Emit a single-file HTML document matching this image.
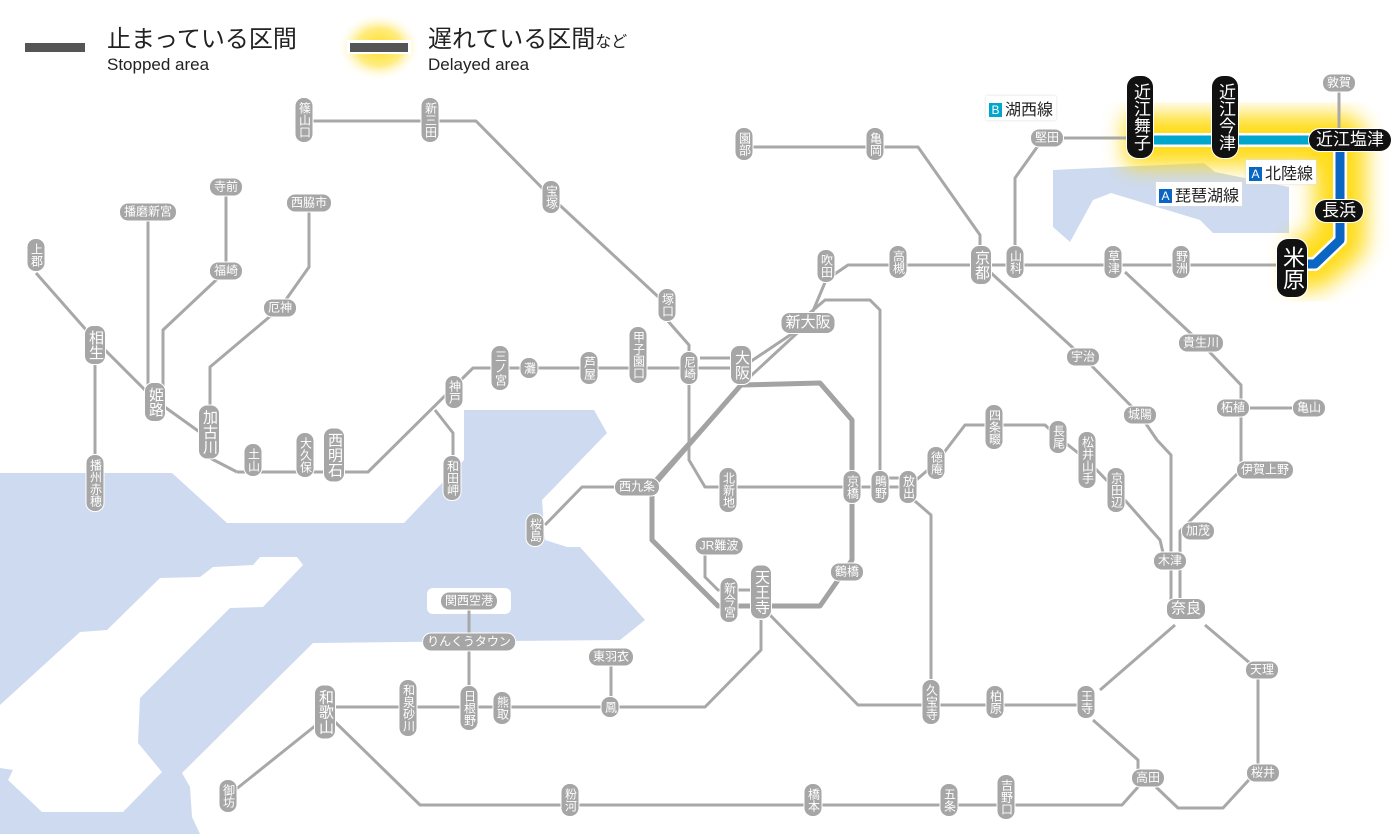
<!DOCTYPE html>
<html><head><meta charset="utf-8">
<style>
html,body{margin:0;padding:0;background:#fff;}
#w{position:relative;width:1400px;height:834px;overflow:hidden;font-family:"Liberation Sans","Noto Sans CJK JP",sans-serif;}
svg{position:absolute;left:0;top:0;}
.s{position:absolute;transform:translate(-50%,-50%);background:#a6a6a6;color:#fff;font-size:12px;line-height:15px;border-radius:8px;padding:1px 4px;white-space:nowrap;box-shadow:0 0 0 1px #fff;}
.v{writing-mode:vertical-rl;padding:4px 1px;line-height:15px;}
.L{font-size:15px;line-height:18px;}
.b{background:#111;font-size:17px;line-height:20px;border-radius:11px;}
.bv{padding:7px 3px;}
.lab{position:absolute;background:#fff;font-size:16px;color:#222;padding:0 3px;white-space:nowrap;box-shadow:0 0 3px #ddd;}
.ic{display:inline-block;width:13px;height:14px;line-height:14px;font-size:12px;color:#fff;text-align:center;margin-right:3px;vertical-align:1px;}
</style></head><body><div id="w">
<svg width="1400" height="834" viewBox="0 0 1400 834">
<defs>
<radialGradient id="g" cx="50%" cy="50%" r="50%"><stop offset="0" stop-color="#ffd800"/><stop offset="0.55" stop-color="#ffe96a"/><stop offset="1" stop-color="#fff" stop-opacity="0"/></radialGradient>
<filter id="bl" x="-30%" y="-30%" width="160%" height="160%"><feGaussianBlur stdDeviation="11"/></filter>
</defs>
<!-- water -->
<polygon fill="#cddaf0" points="0,473 172,473 227,523 404,523 464,460 464,410 594,410 607,433 542,500 545,540 567,547 580,547 645,620 620,640 400,642 313,643 182,773 190,787 192,817 200,834 0,834"/>
<polygon fill="#fff" points="0,705 80,632 107,630 160,578 200,577 213,567 253,565 260,557 297,557 303,565 263,607 230,608 140,698 138,743 162,772 123,812 42,812 8,780 13,770 0,768"/>
<rect x="427" y="588" width="84" height="26" rx="6" fill="#fff"/>
<polygon fill="#cddaf0" points="1053,170 1204,163 1215,172 1289,187 1289,233 1213,233 1200,220 1111,193 1093,200 1070,242 1053,227"/>
<!-- legend -->
<ellipse cx="379" cy="47" rx="42" ry="34" fill="url(#g)" opacity="0.85"/>
<rect x="25" y="43" width="60" height="9" fill="#555"/>
<rect x="347" y="40" width="64" height="14" fill="#fff"/>
<rect x="350" y="43" width="58" height="9" fill="#555"/>
<!-- glow -->
<path d="M1125,140 L1340,140 L1340,240 L1312,264 L1290,264" fill="none" stroke="#ffd800" stroke-width="52" stroke-linejoin="round" filter="url(#bl)" opacity="0.9"/>
<g fill="none" stroke="#a8a8a8" stroke-width="3" stroke-linejoin="round">
<polyline points="304,121 476,121 551,197 667,305 667,320 689,345 689,460 705,487 908,487"/>
<line x1="880" y1="478" x2="908" y2="478"/>
<polyline points="237,472 368,472 473,368 741,368"/>
<line x1="700" y1="358" x2="741" y2="358"/>
<polyline points="435,410 453,433 453,478"/>
<polyline points="36,273 95,340 155,400 201,433 210,458 237,472"/>
<line x1="95" y1="340" x2="95" y2="490"/>
<line x1="148" y1="212" x2="148" y2="400"/>
<polyline points="226,187 226,271 214,282 163,330 163,390"/>
<polyline points="309,203 309,267 280,308 210,367 210,430"/>
<polyline points="655,480 741,385 808,323 826,280 848,265 1300,265"/>
<polyline points="741,368 808,323"/>
<polyline points="798,323 825,300 870,300 880,310 880,487"/>
<polyline points="637,487 582,487 545,525"/>
<polyline points="705,546 705,577 718,590 761,590"/>
<polyline points="761,620 761,650 705,707 325,707"/>
<polyline points="770,615 858,705 1086,705"/>
<line x1="611" y1="657" x2="611" y2="707"/>
<line x1="469" y1="601" x2="469" y2="707"/>
<line x1="320" y1="722" x2="235" y2="790"/>
<polyline points="333,720 420,805 1122,805 1138,787 1138,760 1093,720"/>
<polyline points="1156,787 1178,808 1223,808 1258,770 1258,670 1205,625"/>
<line x1="1100" y1="690" x2="1175" y2="625"/>
<polyline points="1171,609 1171,455 1157,440 1140,415 1083,357 990,272"/>
<polyline points="1180,609 1180,531 1241,470 1241,408 1309,408"/>
<polyline points="1241,408 1241,385 1201,343 1125,272"/>
<polyline points="908,487 936,463 965,425 1045,425 1058,437 1087,460 1116,490 1160,540 1165,561"/>
<polyline points="908,495 931,515 931,705"/>
<polyline points="744,147 918,147 980,235 980,265"/>
<polyline points="1015,265 1015,178 1040,143 1047,138 1140,138"/>
<line x1="1339" y1="83" x2="1339" y2="130"/>
</g>
<g fill="none" stroke="#a3a3a3" stroke-width="5" stroke-linejoin="round">
<polyline points="741,385 820,383 852,420 852,487 852,560 820,606 718,606 652,540 652,487 741,385"/>
</g>
<line x1="1140" y1="140" x2="1315" y2="140" stroke="#fff" stroke-width="14"/>
<line x1="1140" y1="140" x2="1315" y2="140" stroke="#00a6cc" stroke-width="9"/>
<polyline points="1340,145 1340,240 1315,264 1300,264" fill="none" stroke="#fff" stroke-width="14" stroke-linejoin="round"/>
<polyline points="1340,145 1340,240 1315,264 1300,264" fill="none" stroke="#0a66c2" stroke-width="9" stroke-linejoin="round"/>
</svg>

<div style="position:absolute;left:107px;top:26px;font-size:24px;color:#222;line-height:28px;">止まっている区間</div>
<div style="position:absolute;left:107px;top:55px;font-size:17px;color:#222;line-height:20px;">Stopped area</div>
<div style="position:absolute;left:428px;top:26px;font-size:24px;color:#222;line-height:28px;">遅れている区間<span style="font-size:16px">など</span></div>
<div style="position:absolute;left:428px;top:55px;font-size:17px;color:#222;line-height:20px;">Delayed area</div>

<div class="s v" style="left:304px;top:120px">篠山口</div>
<div class="s v" style="left:430px;top:120px">新三田</div>
<div class="s v" style="left:551px;top:197px">宝塚</div>
<div class="s" style="left:226px;top:187px">寺前</div>
<div class="s" style="left:148px;top:212px">播磨新宮</div>
<div class="s" style="left:309px;top:203px">西脇市</div>
<div class="s v" style="left:36px;top:255px">上郡</div>
<div class="s" style="left:226px;top:271px">福崎</div>
<div class="s" style="left:280px;top:308px">厄神</div>
<div class="s v L" style="left:95px;top:345px">相生</div>
<div class="s v L" style="left:155px;top:402px">姫路</div>
<div class="s v L" style="left:209px;top:432px">加古川</div>
<div class="s v" style="left:253px;top:460px">土山</div>
<div class="s v" style="left:305px;top:455px">大久保</div>
<div class="s v L" style="left:334px;top:455px">西明石</div>
<div class="s v" style="left:95px;top:483px">播州赤穂</div>
<div class="s v" style="left:454px;top:392px">神戸</div>
<div class="s v" style="left:452px;top:478px">和田岬</div>
<div class="s v" style="left:500px;top:368px">三ノ宮</div>
<div class="s v" style="left:529px;top:368px">灘</div>
<div class="s v" style="left:589px;top:368px">芦屋</div>
<div class="s v" style="left:638px;top:355px">甲子園口</div>
<div class="s v" style="left:667px;top:305px">塚口</div>
<div class="s v" style="left:689px;top:368px">尼崎</div>
<div class="s v L" style="left:741px;top:365px">大阪</div>
<div class="s L" style="left:808px;top:323px">新大阪</div>
<div class="s v" style="left:826px;top:266px">吹田</div>
<div class="s v" style="left:898px;top:262px">高槻</div>
<div class="s v" style="left:744px;top:144px">園部</div>
<div class="s v" style="left:875px;top:144px">亀岡</div>
<div class="s v L" style="left:981px;top:265px">京都</div>
<div class="s v" style="left:1015px;top:262px">山科</div>
<div class="s" style="left:1047px;top:138px">堅田</div>
<div class="s v" style="left:1113px;top:262px">草津</div>
<div class="s v" style="left:1181px;top:262px">野洲</div>
<div class="s" style="left:1339px;top:83px">敦賀</div>
<div class="s" style="left:1083px;top:357px">宇治</div>
<div class="s" style="left:1201px;top:343px">貴生川</div>
<div class="s" style="left:1140px;top:415px">城陽</div>
<div class="s" style="left:1233px;top:408px">柘植</div>
<div class="s" style="left:1309px;top:408px">亀山</div>
<div class="s" style="left:1265px;top:470px">伊賀上野</div>
<div class="s" style="left:1198px;top:531px">加茂</div>
<div class="s" style="left:1170px;top:561px">木津</div>
<div class="s L" style="left:1186px;top:609px">奈良</div>
<div class="s" style="left:1262px;top:670px">天理</div>
<div class="s" style="left:1263px;top:773px">桜井</div>
<div class="s" style="left:1148px;top:778px">高田</div>
<div class="s v" style="left:1086px;top:702px">王寺</div>
<div class="s v" style="left:995px;top:702px">柏原</div>
<div class="s v" style="left:931px;top:702px">久宝寺</div>
<div class="s v" style="left:1006px;top:797px">吉野口</div>
<div class="s v" style="left:949px;top:800px">五条</div>
<div class="s v" style="left:813px;top:800px">橋本</div>
<div class="s v" style="left:570px;top:800px">粉河</div>
<div class="s v" style="left:228px;top:796px">御坊</div>
<div class="s v L" style="left:325px;top:712px">和歌山</div>
<div class="s v" style="left:408px;top:708px">和泉砂川</div>
<div class="s v" style="left:469px;top:708px">日根野</div>
<div class="s v" style="left:502px;top:708px">熊取</div>
<div class="s v" style="left:610px;top:707px">鳳</div>
<div class="s" style="left:611px;top:657px">東羽衣</div>
<div class="s" style="left:469px;top:601px">関西空港</div>
<div class="s" style="left:469px;top:642px">りんくうタウン</div>
<div class="s v L" style="left:761px;top:592px">天王寺</div>
<div class="s v" style="left:729px;top:600px">新今宮</div>
<div class="s" style="left:719px;top:546px">JR難波</div>
<div class="s" style="left:847px;top:572px">鶴橋</div>
<div class="s" style="left:637px;top:487px">西九条</div>
<div class="s v" style="left:535px;top:530px">桜島</div>
<div class="s v" style="left:728px;top:490px">北新地</div>
<div class="s v" style="left:852px;top:487px">京橋</div>
<div class="s v" style="left:880px;top:487px">鴫野</div>
<div class="s v" style="left:908px;top:487px">放出</div>
<div class="s v" style="left:936px;top:463px">徳庵</div>
<div class="s v" style="left:994px;top:427px">四条畷</div>
<div class="s v" style="left:1058px;top:437px">長尾</div>
<div class="s v" style="left:1087px;top:460px">松井山手</div>
<div class="s v" style="left:1116px;top:490px">京田辺</div>

<div class="s v b bv" style="left:1140px;top:117px">近江舞子</div>
<div class="s v b bv" style="left:1225px;top:117px">近江今津</div>
<div class="s b" style="left:1350px;top:140px;padding:1px 7px">近江塩津</div>
<div class="s b" style="left:1339px;top:211px;padding:1px 7px">長浜</div>
<div class="s v b bv" style="left:1292px;top:268px;font-size:22px;line-height:24px;">米原</div>

<div class="lab" style="left:986px;top:96px"><span class="ic" style="background:#00a6cc">B</span>湖西線</div>
<div class="lab" style="left:1246px;top:160px"><span class="ic" style="background:#0a66c2">A</span>北陸線</div>
<div class="lab" style="left:1156px;top:182px"><span class="ic" style="background:#0a66c2">A</span>琵琶湖線</div>
</div></body></html>
